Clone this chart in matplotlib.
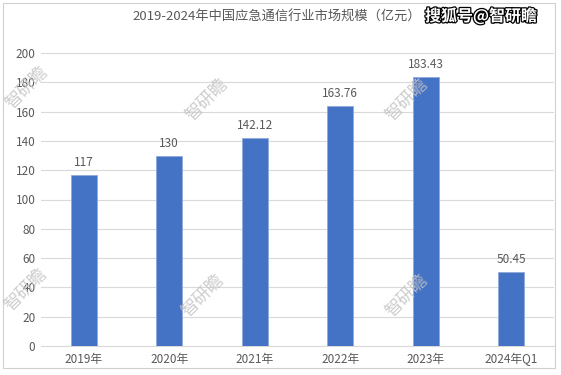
import matplotlib.pyplot as plt
import matplotlib.patheffects as pe

plt.rcParams['font.family'] = ['Noto Sans CJK SC', 'DejaVu Sans']

# data
years = ['2019年', '2020年', '2021年', '2022年', '2023年', '2024年Q1']
market_size = [117, 130, 142.12, 163.76, 183.43, 50.45]
value_labels = ['117', '130', '142.12', '163.76', '183.43', '50.45']

fig = plt.figure(figsize=(5.61, 3.75), dpi=100)
ax = fig.add_axes([41 / 561, 1 - 346 / 375, 513 / 561, 293 / 375])

gray = '#595959'
bars = ax.bar(years, market_size, width=0.3, color='#4472C4',
              edgecolor='#8EA9DB', linewidth=0.6, zorder=3)
for b, lab in zip(bars, value_labels):
    ax.text(b.get_x() + b.get_width() / 2, b.get_height() + 4, lab,
            ha='center', va='bottom', fontsize=8.5, color=gray)

ax.set_ylim(0, 200)
ax.set_yticks(range(0, 201, 20))
ax.set_xlim(-0.5, 5.5)
ax.grid(axis='y', color='#D9D9D9', linewidth=0.8, zorder=0)
for s in ['top', 'right', 'left']:
    ax.spines[s].set_visible(False)
ax.spines['bottom'].set_color('#D9D9D9')
ax.tick_params(axis='both', length=0, labelsize=8.5, labelcolor=gray)
ax.tick_params(axis='x', pad=5)
ax.tick_params(axis='y', pad=4)

fig.text(277 / 561, 1 - 17 / 375, '2019-2024年中国应急通信行业市场规模（亿元）',
         ha='center', va='center', fontsize=9.5, color=gray)

# outer border
fig.patches.append(plt.Rectangle((3 / 561, 1 - 368 / 375), 552 / 561, 365 / 375,
                                 transform=fig.transFigure, fill=False,
                                 edgecolor='#D0D0D0', linewidth=0.8))

# watermarks
marks = [(27, 88), (207, 100), (407, 100), (26, 290), (203, 296), (407, 296)]
for x, y in marks:
    fig.text(x / 561, 1 - y / 375, '智研瞻', rotation=45, ha='center', va='center',
             fontsize=12.5, color='#C4C4C4', alpha=0.85, fontweight='light', zorder=5)

fig.text(481 / 561, 1 - 16 / 375, '搜狐号@智研瞻', ha='center', va='center',
         fontsize=11.5, color='white', fontweight='bold', zorder=6,
         path_effects=[pe.withStroke(linewidth=1.8, foreground='black')])

fig.savefig('out.png', dpi=100)
